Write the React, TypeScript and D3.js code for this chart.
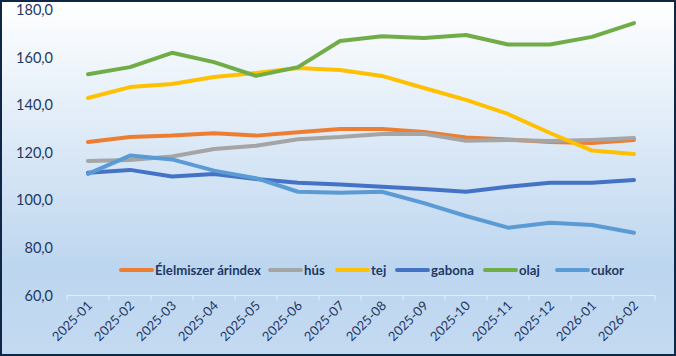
import React from "react";
import * as d3 from "d3";

const categories = ["2025-01","2025-02","2025-03","2025-04","2025-05","2025-06","2025-07","2025-08","2025-09","2025-10","2025-11","2025-12","2026-01","2026-02"];
const elelmiszer = [124.5,126.6,127.2,128.2,127.2,128.6,130.0,130.0,128.7,126.4,125.6,124.5,124.1,125.4];
const hus = [116.5,117.0,118.4,121.6,122.9,125.7,126.6,127.9,128.0,125.0,125.4,124.9,125.4,126.2];
const tej = [143.0,147.6,148.9,151.8,153.5,155.6,154.8,152.3,147.2,142.2,136.3,128.3,120.9,119.5];
const gabona = [111.6,112.8,110.0,111.1,109.0,107.4,106.7,105.7,104.8,103.6,105.7,107.4,107.4,108.5];
const olaj = [153.0,156.0,162.0,158.1,152.3,156.0,167.0,169.0,168.2,169.5,165.5,165.5,168.7,174.5];
const cukor = [111.1,118.8,117.2,112.5,109.3,103.6,103.2,103.6,98.8,93.4,88.5,90.6,89.6,86.4];
const yTicks = [60,80,100,120,140,160,180];

const seriesNames = ["Élelmiszer árindex","hús","tej","gabona","olaj","cukor"];
const seriesData = [elelmiszer, hus, tej, gabona, olaj, cukor];
const seriesColors = ["#ED7D31","#A5A5A5","#FFC000","#4472C4","#70AD47","#5B9BD5"];
const drawOrder = [0,1,2,3,4,5];

const W = 676, H = 356;
const textColor = "#1F3864";
const font = "Lato, sans-serif";

export default function App() {
  const x = d3.scaleBand<string>().domain(categories).range([67, 655]);
  const y = d3.scaleLinear().domain([60, 180]).range([295.5, 10]);
  const line = d3.line<number>()
    .x((_, i) => (x(categories[i]) as number) + x.bandwidth() / 2)
    .y((d) => y(d));

  const legendX = [121, 270, 337, 397, 485, 557];
  const legendY = 270;

  return (
    <svg width={W} height={H} style={{ position: "absolute", left: 0, top: 0 }}>
      <defs>
        <linearGradient id="bg" x1="0" y1="0" x2="0" y2="1">
          <stop offset="0" stopColor="#ffffff" />
          <stop offset="0.75" stopColor="#bdd6ef" />
          <stop offset="1" stopColor="#c3daf1" />
        </linearGradient>
      </defs>
      <rect x={1} y={1} width={W - 2} height={H - 2} fill="url(#bg)" stroke="#0e2746" strokeWidth={2} />
      <line x1={67} x2={655} y1={y(60)} y2={y(60)} stroke="#e6eef8" strokeWidth={1} />
      {categories.concat([""]).map((_, i) => {
        const xx = 67 + i * x.step();
        return <line key={"t" + i} x1={xx} x2={xx} y1={y(60)} y2={y(60) + 5} stroke="#e6eef8" strokeWidth={1} />;
      })}
      {yTicks.map((t) => (
        <text key={t} x={53} y={y(t)} dy="0.35em" textAnchor="end" fontFamily={font} fontSize={14.5} fill={textColor}>
          {t.toFixed(1).replace(".", ",")}
        </text>
      ))}
      {categories.map((c) => {
        const cx = (x(c) as number) + x.bandwidth() / 2 + 5;
        const cy = y(60) + 11;
        return (
          <text key={c} transform={`translate(${cx},${cy}) rotate(-45)`} textAnchor="end" fontFamily={font} fontSize={13} fill={textColor}>
            {c}
          </text>
        );
      })}
      {drawOrder.map((si) => (
        <path key={si} d={line(seriesData[si]) as string} fill="none" stroke={seriesColors[si]} strokeWidth={4} strokeLinejoin="round" strokeLinecap="round" />
      ))}
      {seriesNames.map((n, i) => (
        <g key={n}>
          <line x1={legendX[i]} x2={legendX[i] + 31} y1={legendY} y2={legendY} stroke={seriesColors[i]} strokeWidth={4} strokeLinecap="round" />
          <text x={legendX[i] + 34} y={legendY} dy="0.35em" fontFamily={font} fontSize={13.2} fontWeight="bold" fill={textColor}>
            {n}
          </text>
        </g>
      ))}
    </svg>
  );
}
